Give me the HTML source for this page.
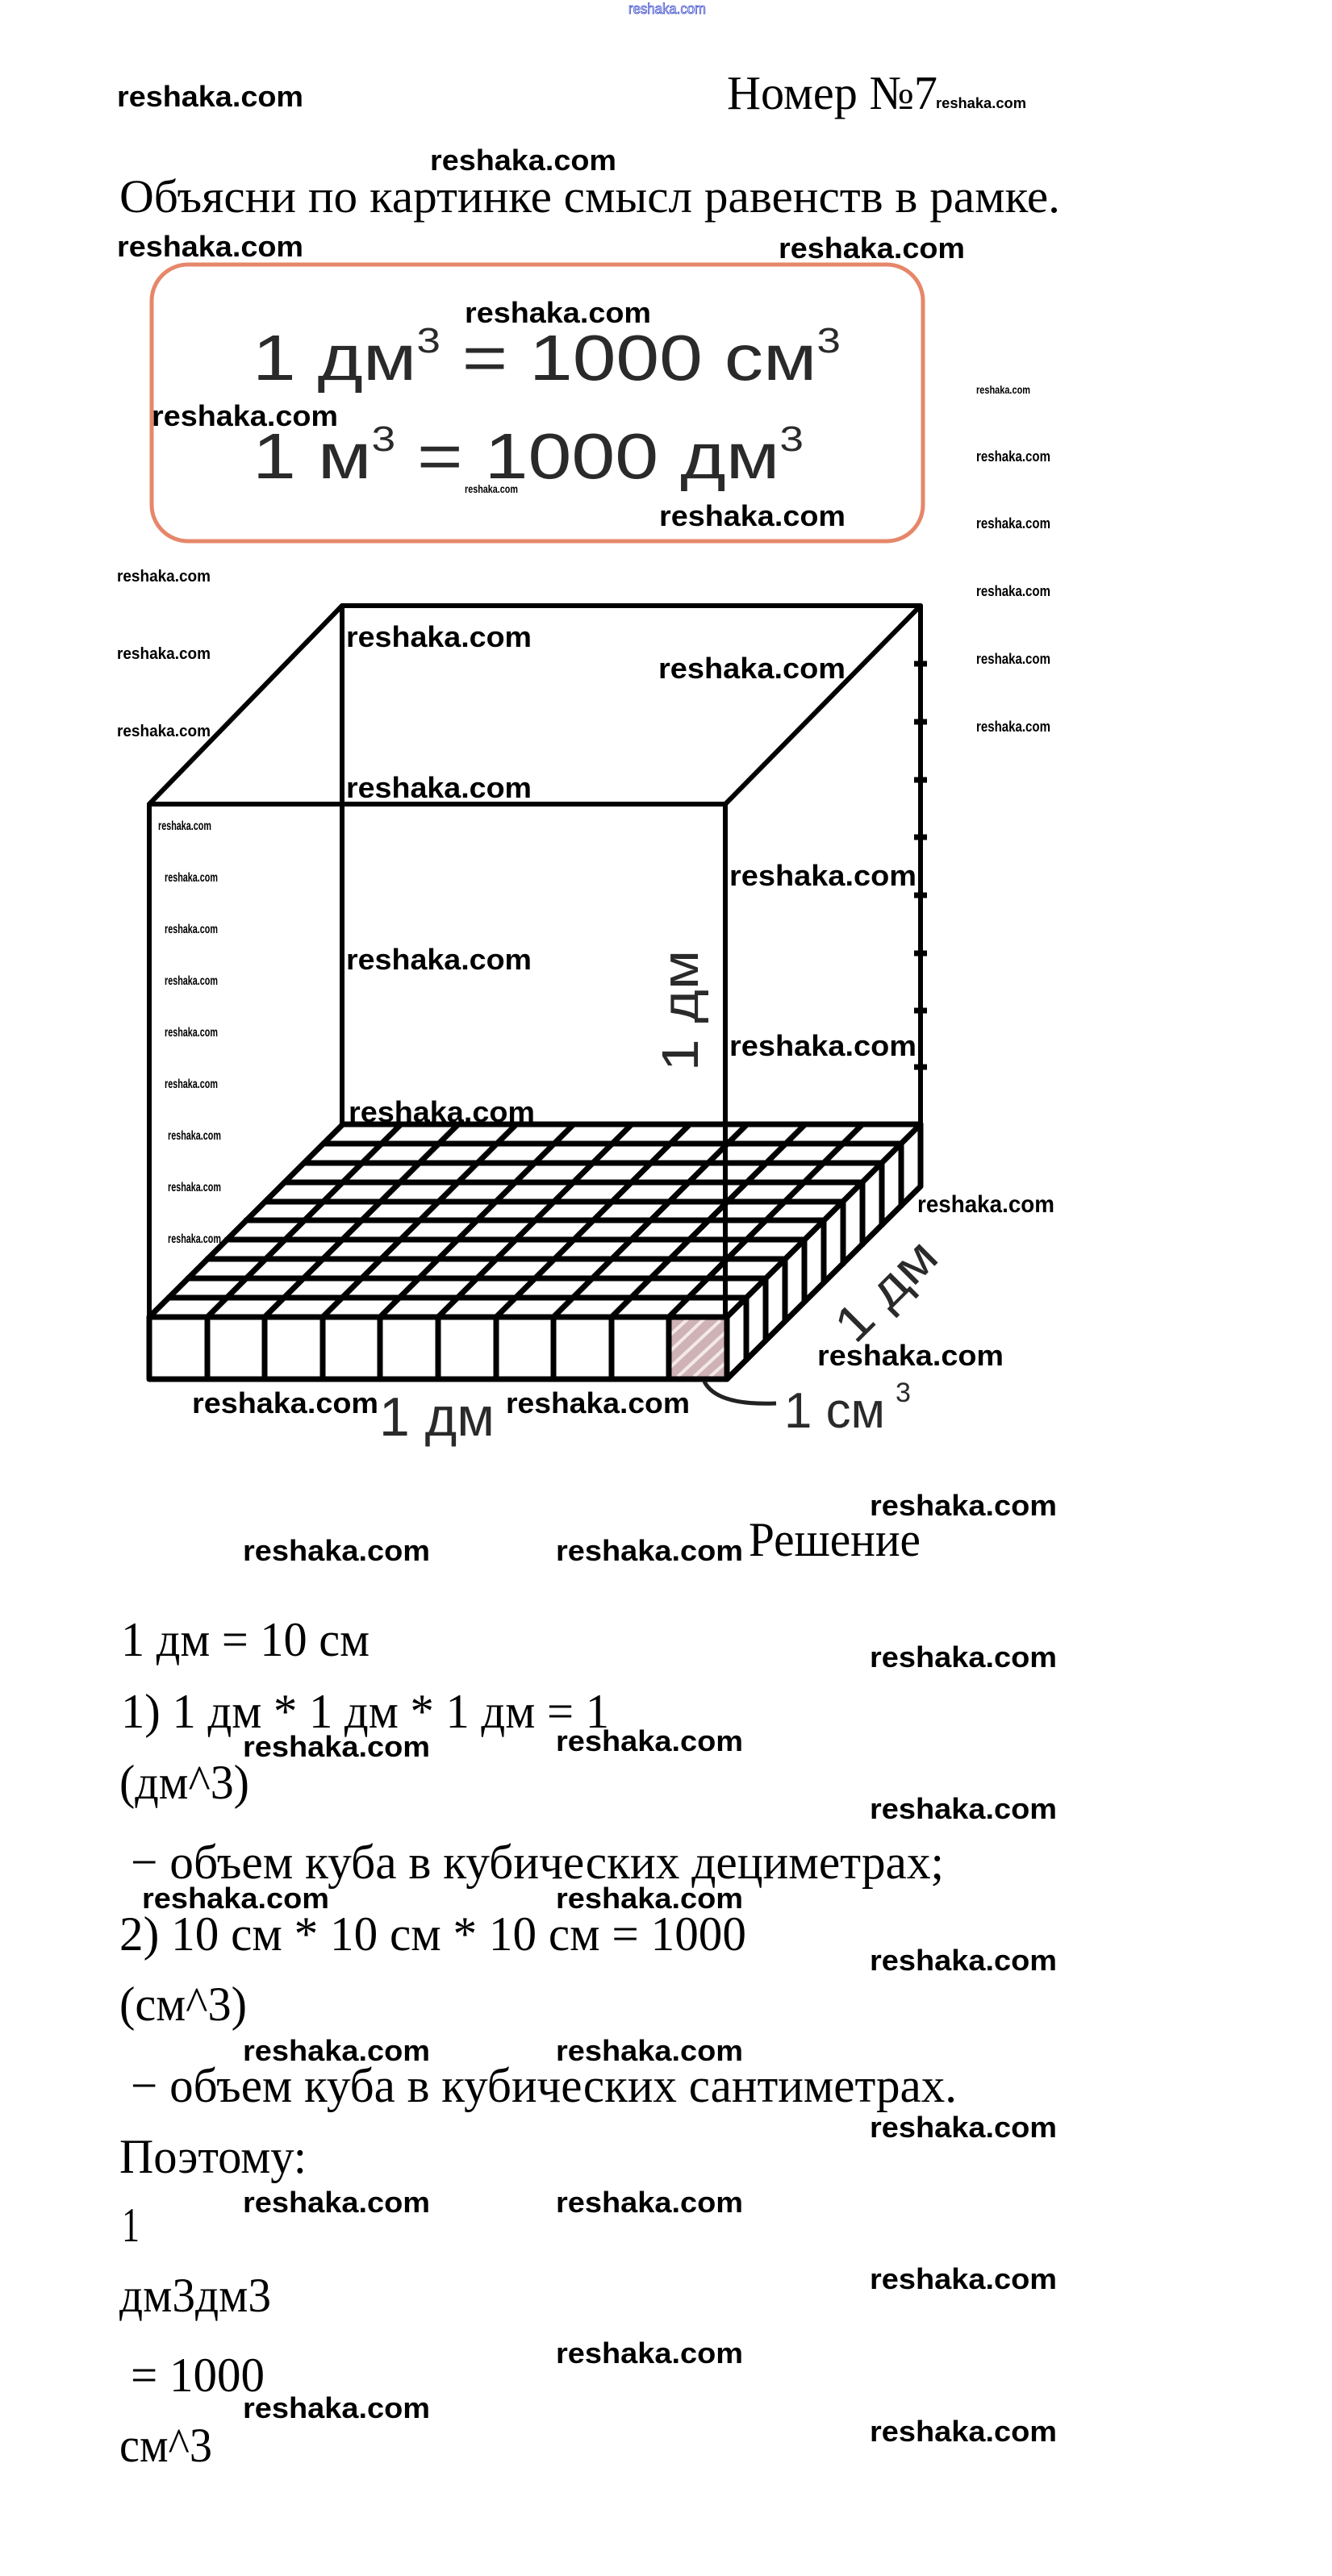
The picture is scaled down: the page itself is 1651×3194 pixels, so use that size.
<!DOCTYPE html>
<html><head><meta charset="utf-8"><style>
html,body{margin:0;padding:0;background:#fff}
svg{display:block}
.w{font-family:"Liberation Sans",sans-serif;font-weight:bold;fill:#000}
.s{font-family:"Liberation Serif","Noto Serif CJK SC",serif;fill:#000}
.a{font-family:"Liberation Sans",sans-serif;fill:#2a2a2a}
</style></head><body>
<svg width="1651" height="3194" viewBox="0 0 1651 3194" xmlns="http://www.w3.org/2000/svg">
<rect width="1651" height="3194" fill="#fff"/>
<text x="779" y="17" font-family="Liberation Sans,sans-serif" font-size="18" fill="#fff" stroke="#3344cc" stroke-width="0.8" textLength="96" lengthAdjust="spacingAndGlyphs">reshaka.com</text>

<text class="w" x="145" y="132" font-size="36" textLength="231" lengthAdjust="spacingAndGlyphs">reshaka.com</text>
<text class="s" x="901" y="135" font-size="59" textLength="261" lengthAdjust="spacingAndGlyphs">Номер №7</text>
<text class="w" x="1160" y="134" font-size="18" textLength="112" lengthAdjust="spacingAndGlyphs">reshaka.com</text>
<text class="w" x="533" y="211" font-size="36" textLength="231" lengthAdjust="spacingAndGlyphs">reshaka.com</text>
<text class="s" x="148" y="263" font-size="58" textLength="1166" lengthAdjust="spacingAndGlyphs">Объясни по картинке смысл равенств в рамке.</text>
<text class="w" x="145" y="318" font-size="36" textLength="231" lengthAdjust="spacingAndGlyphs">reshaka.com</text>
<text class="w" x="965" y="320" font-size="36" textLength="231" lengthAdjust="spacingAndGlyphs">reshaka.com</text>

<rect x="188" y="328" width="956" height="343" rx="45" ry="45" fill="none" stroke="#e6876a" stroke-width="5"/>
<text class="a" x="313" y="471" font-size="80" textLength="729" lengthAdjust="spacingAndGlyphs">1 дм<tspan dy="-34" font-size="44">3</tspan><tspan dy="34"> = 1000 см</tspan><tspan dy="-34" font-size="44">3</tspan></text>
<text class="a" x="313" y="593" font-size="80" textLength="683" lengthAdjust="spacingAndGlyphs">1 м<tspan dy="-34" font-size="44">3</tspan><tspan dy="34"> = 1000 дм</tspan><tspan dy="-34" font-size="44">3</tspan></text>
<text class="w" x="576" y="400" font-size="36" textLength="231" lengthAdjust="spacingAndGlyphs">reshaka.com</text>
<text class="w" x="188" y="528" font-size="36" textLength="231" lengthAdjust="spacingAndGlyphs">reshaka.com</text>
<text class="w" x="576" y="611" font-size="14" textLength="66" lengthAdjust="spacingAndGlyphs">reshaka.com</text>
<text class="w" x="817" y="652" font-size="36" textLength="231" lengthAdjust="spacingAndGlyphs">reshaka.com</text>

<g class="w">
<text x="1210" y="488" font-size="14" textLength="67" lengthAdjust="spacingAndGlyphs">reshaka.com</text>
<text x="1210" y="572" font-size="18" textLength="92" lengthAdjust="spacingAndGlyphs">reshaka.com</text>
<text x="1210" y="655" font-size="18" textLength="92" lengthAdjust="spacingAndGlyphs">reshaka.com</text>
<text x="1210" y="739" font-size="18" textLength="92" lengthAdjust="spacingAndGlyphs">reshaka.com</text>
<text x="1210" y="823" font-size="18" textLength="92" lengthAdjust="spacingAndGlyphs">reshaka.com</text>
<text x="1210" y="907" font-size="18" textLength="92" lengthAdjust="spacingAndGlyphs">reshaka.com</text>
<text x="145" y="721" font-size="20" textLength="116" lengthAdjust="spacingAndGlyphs">reshaka.com</text>
<text x="145" y="817" font-size="20" textLength="116" lengthAdjust="spacingAndGlyphs">reshaka.com</text>
<text x="145" y="913" font-size="20" textLength="116" lengthAdjust="spacingAndGlyphs">reshaka.com</text>
</g>

<!-- cube frame -->
<g stroke="#000" stroke-width="6" fill="none" stroke-linecap="round" stroke-linejoin="round">
<polyline points="185,1710 185,997 424,751 1141,751 1141,1394"/>
<line x1="185" y1="997" x2="899" y2="997"/>
<line x1="899" y1="997" x2="1141" y2="751"/>
<line x1="899" y1="997" x2="899" y2="1633"/>
<line x1="424" y1="751" x2="424" y2="1394"/>
</g>
<g stroke="#000" stroke-width="7">
<line x1="1133" y1="823" x2="1149" y2="823"/><line x1="1133" y1="895" x2="1149" y2="895"/>
<line x1="1133" y1="967" x2="1149" y2="967"/><line x1="1133" y1="1038" x2="1149" y2="1038"/>
<line x1="1133" y1="1110" x2="1149" y2="1110"/><line x1="1133" y1="1182" x2="1149" y2="1182"/>
<line x1="1133" y1="1253" x2="1149" y2="1253"/><line x1="1133" y1="1323" x2="1149" y2="1323"/>
</g>

<!-- slab -->
<rect x="829" y="1633" width="72" height="77" fill="#cfb2b6"/>
<g stroke="#f3e8ea" stroke-width="4">
<line x1="831" y1="1655" x2="853" y2="1635"/><line x1="831" y1="1675" x2="873" y2="1635"/>
<line x1="831" y1="1695" x2="893" y2="1637"/><line x1="840" y1="1707" x2="899" y2="1652"/>
<line x1="860" y1="1707" x2="899" y2="1671"/><line x1="880" y1="1707" x2="899" y2="1690"/>
</g>
<g stroke="#000" stroke-width="7" fill="none" stroke-linecap="round">
<line x1="425" y1="1394" x2="1141" y2="1394"/>
<line x1="401" y1="1418" x2="1117" y2="1418"/>
<line x1="377" y1="1442" x2="1093" y2="1442"/>
<line x1="353" y1="1466" x2="1069" y2="1466"/>
<line x1="329" y1="1490" x2="1045" y2="1490"/>
<line x1="305" y1="1513" x2="1021" y2="1513"/>
<line x1="281" y1="1537" x2="997" y2="1537"/>
<line x1="257" y1="1561" x2="973" y2="1561"/>
<line x1="233" y1="1585" x2="949" y2="1585"/>
<line x1="209" y1="1609" x2="925" y2="1609"/>
<line x1="185" y1="1633" x2="901" y2="1633"/>
<line x1="425" y1="1394" x2="185" y2="1633"/>
<line x1="497" y1="1394" x2="257" y2="1633"/>
<line x1="568" y1="1394" x2="328" y2="1633"/>
<line x1="640" y1="1394" x2="400" y2="1633"/>
<line x1="711" y1="1394" x2="471" y2="1633"/>
<line x1="783" y1="1394" x2="543" y2="1633"/>
<line x1="855" y1="1394" x2="615" y2="1633"/>
<line x1="926" y1="1394" x2="686" y2="1633"/>
<line x1="998" y1="1394" x2="758" y2="1633"/>
<line x1="1069" y1="1394" x2="829" y2="1633"/>
<line x1="1141" y1="1394" x2="901" y2="1633"/>
<line x1="257" y1="1633" x2="257" y2="1710"/>
<line x1="328" y1="1633" x2="328" y2="1710"/>
<line x1="400" y1="1633" x2="400" y2="1710"/>
<line x1="471" y1="1633" x2="471" y2="1710"/>
<line x1="543" y1="1633" x2="543" y2="1710"/>
<line x1="615" y1="1633" x2="615" y2="1710"/>
<line x1="686" y1="1633" x2="686" y2="1710"/>
<line x1="758" y1="1633" x2="758" y2="1710"/>
<line x1="829" y1="1633" x2="829" y2="1710"/>
<line x1="925" y1="1609" x2="925" y2="1686"/>
<line x1="949" y1="1585" x2="949" y2="1662"/>
<line x1="973" y1="1561" x2="973" y2="1638"/>
<line x1="997" y1="1537" x2="997" y2="1614"/>
<line x1="1021" y1="1513" x2="1021" y2="1590"/>
<line x1="1045" y1="1490" x2="1045" y2="1567"/>
<line x1="1069" y1="1466" x2="1069" y2="1543"/>
<line x1="1093" y1="1442" x2="1093" y2="1519"/>
<line x1="1117" y1="1418" x2="1117" y2="1495"/>
<polyline points="185,1633 185,1710 901,1710 1141,1471 1141,1394" stroke-linejoin="round"/>
<line x1="901" y1="1633" x2="901" y2="1710"/>
</g>
<path d="M873,1713 Q888,1743 962,1740" stroke="#222" stroke-width="5" fill="none"/>

<!-- cube labels -->
<text class="a" x="0" y="0" font-size="64" textLength="150" lengthAdjust="spacingAndGlyphs" transform="translate(865,1328) rotate(-90)">1 дм</text>
<text class="a" x="470" y="1780" font-size="68" textLength="143" lengthAdjust="spacingAndGlyphs">1 дм</text>
<text class="a" x="0" y="0" font-size="62" textLength="150" lengthAdjust="spacingAndGlyphs" transform="translate(1060,1668) rotate(-45)">1 дм</text>
<text class="a" x="972" y="1770" font-size="62" textLength="125" lengthAdjust="spacingAndGlyphs">1 см</text>
<text class="a" x="1110" y="1738" font-size="34">3</text>

<g class="w" font-size="36">
<text x="429" y="802" textLength="230" lengthAdjust="spacingAndGlyphs">reshaka.com</text>
<text x="816" y="841" textLength="232" lengthAdjust="spacingAndGlyphs">reshaka.com</text>
<text x="429" y="989" textLength="230" lengthAdjust="spacingAndGlyphs">reshaka.com</text>
<text x="904" y="1098" textLength="232" lengthAdjust="spacingAndGlyphs">reshaka.com</text>
<text x="429" y="1202" textLength="230" lengthAdjust="spacingAndGlyphs">reshaka.com</text>
<text x="904" y="1309" textLength="232" lengthAdjust="spacingAndGlyphs">reshaka.com</text>
<text x="432" y="1391" textLength="231" lengthAdjust="spacingAndGlyphs">reshaka.com</text>
<text x="1137" y="1503" font-size="30" textLength="170" lengthAdjust="spacingAndGlyphs">reshaka.com</text>
<text x="1013" y="1693" textLength="231" lengthAdjust="spacingAndGlyphs">reshaka.com</text>
<text x="238" y="1752" textLength="231" lengthAdjust="spacingAndGlyphs">reshaka.com</text>
<text x="627" y="1752" textLength="228" lengthAdjust="spacingAndGlyphs">reshaka.com</text>
</g>
<g class="w" font-size="16">
<text x="196" y="1029" textLength="66" lengthAdjust="spacingAndGlyphs">reshaka.com</text>
<text x="204" y="1093" textLength="66" lengthAdjust="spacingAndGlyphs">reshaka.com</text>
<text x="204" y="1157" textLength="66" lengthAdjust="spacingAndGlyphs">reshaka.com</text>
<text x="204" y="1221" textLength="66" lengthAdjust="spacingAndGlyphs">reshaka.com</text>
<text x="204" y="1285" textLength="66" lengthAdjust="spacingAndGlyphs">reshaka.com</text>
<text x="204" y="1349" textLength="66" lengthAdjust="spacingAndGlyphs">reshaka.com</text>
<text x="208" y="1413" textLength="66" lengthAdjust="spacingAndGlyphs">reshaka.com</text>
<text x="208" y="1477" textLength="66" lengthAdjust="spacingAndGlyphs">reshaka.com</text>
<text x="208" y="1541" textLength="66" lengthAdjust="spacingAndGlyphs">reshaka.com</text>
</g>

<!-- solution -->
<g class="s" font-size="60">
<text x="928" y="1929" textLength="213" lengthAdjust="spacingAndGlyphs">Решение</text>
<text x="150" y="2053" textLength="308" lengthAdjust="spacingAndGlyphs">1 дм = 10 см</text>
<text x="150" y="2142" textLength="605" lengthAdjust="spacingAndGlyphs">1) 1 дм * 1 дм * 1 дм = 1</text>
<text x="148" y="2230" textLength="161" lengthAdjust="spacingAndGlyphs">(дм^3)</text>
<text x="162" y="2329" textLength="1008" lengthAdjust="spacingAndGlyphs">− объем куба в кубических дециметрах;</text>
<text x="148" y="2418" textLength="777" lengthAdjust="spacingAndGlyphs">2) 10 см * 10 см * 10 см = 1000</text>
<text x="148" y="2505" textLength="158" lengthAdjust="spacingAndGlyphs">(см^3)</text>
<text x="162" y="2606" textLength="1024" lengthAdjust="spacingAndGlyphs">− объем куба в кубических сантиметрах.</text>
<text x="148" y="2694" textLength="232" lengthAdjust="spacingAndGlyphs">Поэтому:</text>
<text x="151" y="2779" textLength="22" lengthAdjust="spacingAndGlyphs">1</text>
<text x="148" y="2866" textLength="188" lengthAdjust="spacingAndGlyphs">дм3дм3</text>
<text x="162" y="2965" textLength="166" lengthAdjust="spacingAndGlyphs">= 1000</text>
<text x="148" y="3052" textLength="115" lengthAdjust="spacingAndGlyphs">см^3</text>
</g>
<g class="w" font-size="36">
<text x="1078" y="1879" textLength="232" lengthAdjust="spacingAndGlyphs">reshaka.com</text>
<text x="301" y="1935" textLength="232" lengthAdjust="spacingAndGlyphs">reshaka.com</text>
<text x="689" y="1935" textLength="232" lengthAdjust="spacingAndGlyphs">reshaka.com</text>
<text x="1078" y="2067" textLength="232" lengthAdjust="spacingAndGlyphs">reshaka.com</text>
<text x="301" y="2178" textLength="232" lengthAdjust="spacingAndGlyphs">reshaka.com</text>
<text x="689" y="2171" textLength="232" lengthAdjust="spacingAndGlyphs">reshaka.com</text>
<text x="1078" y="2255" textLength="232" lengthAdjust="spacingAndGlyphs">reshaka.com</text>
<text x="176" y="2366" textLength="232" lengthAdjust="spacingAndGlyphs">reshaka.com</text>
<text x="689" y="2366" textLength="232" lengthAdjust="spacingAndGlyphs">reshaka.com</text>
<text x="1078" y="2443" textLength="232" lengthAdjust="spacingAndGlyphs">reshaka.com</text>
<text x="301" y="2555" textLength="232" lengthAdjust="spacingAndGlyphs">reshaka.com</text>
<text x="689" y="2555" textLength="232" lengthAdjust="spacingAndGlyphs">reshaka.com</text>
<text x="1078" y="2650" textLength="232" lengthAdjust="spacingAndGlyphs">reshaka.com</text>
<text x="301" y="2743" textLength="232" lengthAdjust="spacingAndGlyphs">reshaka.com</text>
<text x="689" y="2743" textLength="232" lengthAdjust="spacingAndGlyphs">reshaka.com</text>
<text x="1078" y="2838" textLength="232" lengthAdjust="spacingAndGlyphs">reshaka.com</text>
<text x="689" y="2930" textLength="232" lengthAdjust="spacingAndGlyphs">reshaka.com</text>
<text x="301" y="2998" textLength="232" lengthAdjust="spacingAndGlyphs">reshaka.com</text>
<text x="1078" y="3027" textLength="232" lengthAdjust="spacingAndGlyphs">reshaka.com</text>
</g>
</svg>
</body></html>
